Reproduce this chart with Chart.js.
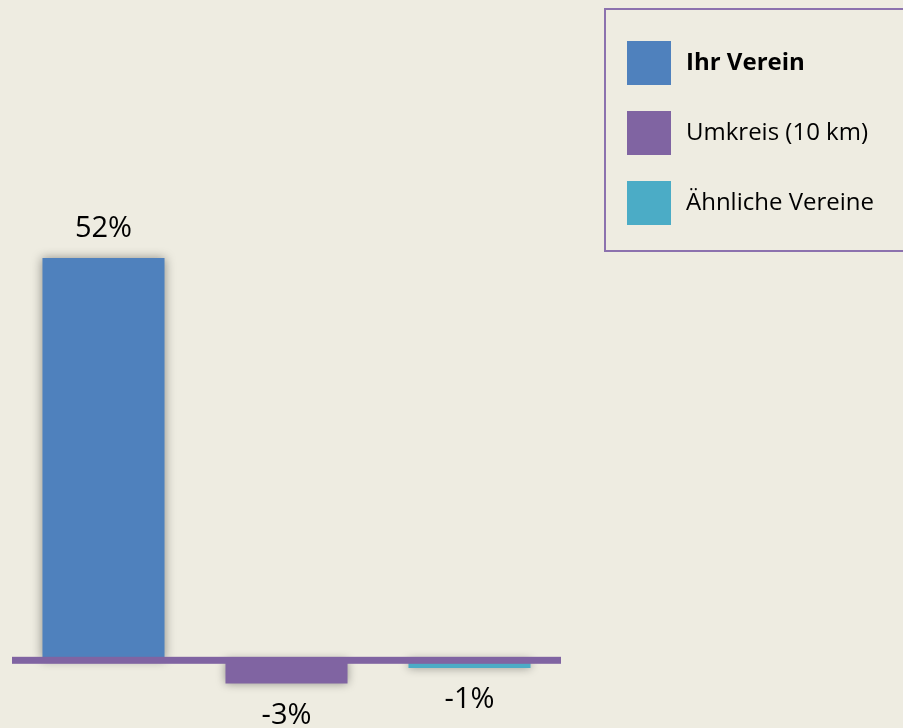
<!DOCTYPE html>
<html>
<head>
<meta charset="utf-8">
<script src="https://cdn.jsdelivr.net/npm/chart.js@4"></script>
<style>
  html, body { margin: 0; padding: 0; background: #EEECE1; }
  #wrap { position: relative; width: 903px; height: 728px; }
</style>
</head>
<body>
<div id="wrap"><canvas id="vereinChart" width="903" height="728"></canvas></div>
<script>
// chart data
const categories = ['Ihr Verein', 'Umkreis (10 km)', 'Ähnliche Vereine'];
const values = [52, -3, -1];
const valueLabels = ['52%', '-3%', '-1%'];
const barColors = ['#4F81BD', '#8064A2', '#4BACC6'];

const FONT = '"Open Sans", Lato, sans-serif';

// soft shadow around the bars
const barShadow = {
  id: 'barShadow',
  beforeDatasetsDraw(chart) {
    const ctx = chart.ctx;
    ctx.save();
    ctx.shadowColor = 'rgba(0,0,0,0.4)';
    ctx.shadowBlur = 10;
    ctx.shadowOffsetX = 0;
    ctx.shadowOffsetY = 0;
  },
  afterDatasetsDraw(chart) {
    chart.ctx.restore();
  }
};

// zero line on top of bars + value labels
const zeroAndLabels = {
  id: 'zeroAndLabels',
  afterDatasetsDraw(chart) {
    const ctx = chart.ctx;
    const area = chart.chartArea;
    const y0 = chart.scales.y.getPixelForValue(0);
    ctx.save();
    ctx.fillStyle = '#8064A2';
    ctx.fillRect(area.left, y0 - 3.5, area.right - area.left, 7);

    ctx.fillStyle = '#000';
    ctx.font = '29px ' + FONT;
    ctx.textAlign = 'center';
    ctx.textBaseline = 'middle';
    const meta = chart.getDatasetMeta(0);
    meta.data.forEach(function (bar, i) {
      const y = values[i] >= 0 ? bar.y - 29 : bar.y + 32;
      ctx.fillText(valueLabels[i], bar.x, y);
    });
    ctx.restore();
  }
};

// boxed legend at the top right
const boxLegend = {
  id: 'boxLegend',
  afterDraw(chart) {
    const ctx = chart.ctx;
    ctx.save();
    ctx.strokeStyle = '#8C72AE';
    ctx.lineWidth = 2;
    ctx.strokeRect(605, 9, 300, 242);
    categories.forEach(function (name, i) {
      const y = 41 + i * 70;
      ctx.fillStyle = barColors[i];
      ctx.fillRect(627, y, 44, 44);
      ctx.fillStyle = '#000';
      ctx.font = (i === 0 ? 'bold ' : '') + '24px ' + FONT;
      ctx.textAlign = 'left';
      ctx.textBaseline = 'middle';
      ctx.fillText(name, 686, y + 22);
    });
    ctx.restore();
  }
};

const ctx = document.getElementById('vereinChart').getContext('2d');
const myChart = new Chart(ctx, {
  type: 'bar',
  data: {
    labels: categories,
    datasets: [{
      data: values,
      backgroundColor: barColors,
      borderWidth: 0,
      categoryPercentage: 1,
      barPercentage: 0.667
    }]
  },
  options: {
    responsive: false,
    animation: false,
    layout: { padding: { left: 12, right: 342, top: 196, bottom: 29 } },
    plugins: {
      legend: { display: false },
      tooltip: { enabled: false }
    },
    scales: {
      x: { display: false },
      y: { display: false, min: -5, max: 60 }
    }
  },
  plugins: [barShadow, zeroAndLabels, boxLegend]
});
</script>
</body>
</html>
